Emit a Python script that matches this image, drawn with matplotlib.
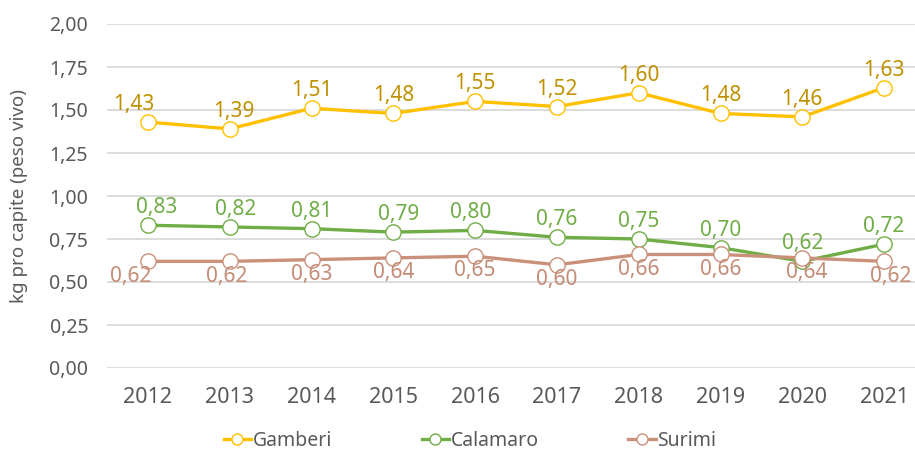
import matplotlib
matplotlib.use('Agg')
import matplotlib.pyplot as plt

years = ['2012', '2013', '2014', '2015', '2016', '2017', '2018', '2019', '2020', '2021']
gamberi = [1.43, 1.39, 1.51, 1.48, 1.55, 1.52, 1.60, 1.48, 1.46, 1.63]
calamaro = [0.83, 0.82, 0.81, 0.79, 0.80, 0.76, 0.75, 0.70, 0.62, 0.72]
surimi = [0.62, 0.62, 0.63, 0.64, 0.65, 0.60, 0.66, 0.66, 0.64, 0.62]

plt.rcParams['font.family'] = ['Noto Sans', 'DejaVu Sans']
text_grey = '#595959'

fig = plt.figure(figsize=(9.15, 4.5), dpi=100)
ax = fig.add_axes([107 / 915, 1 - 368 / 450, 818 / 915, 344 / 450])

# (name, values, line colour, label colour, label side, x nudges in pt)
series = [
    ('Gamberi', gamberi, '#FFC000', '#BF9000', 'above', [-10, 3, 0, 0, 0, 0, 0, 0, 0, 0]),
    ('Calamaro', calamaro, '#70AD47', '#70AD47', 'above', [6, 4, 0, 4, -3, 0, 0, 0, 0, 0]),
    ('Surimi', surimi, '#C9907A', '#C48B76', 'below', [-12, -2, 0, 0, 0, 0, 0, 0, 3, 5]),
]

x = list(range(len(years)))
for name, vals, col, lcol, pos, nudge in series:
    ax.plot(x, vals, color=col, lw=2.4, marker='o', ms=11, mfc='white',
            mec=col, mew=1.0, label=name, zorder=3)
    for xi, v, dx in zip(x, vals, nudge):
        lbl = '{:.2f}'.format(v).replace('.', ',')
        if pos == 'above':
            ax.annotate(lbl, (xi, v), xytext=(dx, 5), textcoords='offset points',
                        ha='center', va='bottom', color=lcol, fontsize=15, zorder=4)
        else:
            ax.annotate(lbl, (xi, v), xytext=(dx, -3), textcoords='offset points',
                        ha='center', va='top', color=lcol, fontsize=15, zorder=4)

ax.set_xlim(-0.5, len(years) - 0.5)
ax.set_ylim(0, 2.0)
ax.set_yticks([0, 0.25, 0.5, 0.75, 1.0, 1.25, 1.5, 1.75, 2.0])
ax.set_yticklabels(['{:.2f}'.format(t).replace('.', ',') for t in ax.get_yticks()])
ax.set_xticks(x)
ax.set_xticklabels(years)
ax.tick_params(axis='both', length=0, colors=text_grey)
ax.tick_params(axis='x', pad=14, labelsize=15.5)
ax.tick_params(axis='y', pad=13.5, labelsize=14)
ax.grid(axis='y', color='#D9D9D9', lw=1.3)
ax.set_axisbelow(True)
for s in ax.spines.values():
    s.set_visible(False)
ax.set_ylabel('kg pro capite (peso vivo)', fontsize=13.5, color=text_grey)
ax.yaxis.set_label_coords(-79 / 818, 0.5)

fig.legend(loc='center', bbox_to_anchor=(0, 0, 470 * 2 / 915, 18 / 450),
           bbox_transform=fig.transFigure, ncol=3, frameon=False, borderaxespad=0,
           fontsize=14, labelcolor=text_grey, columnspacing=4.6, handlelength=1.4,
           handletextpad=0.1, markerscale=0.72)

fig.savefig('out.png', dpi=100)
